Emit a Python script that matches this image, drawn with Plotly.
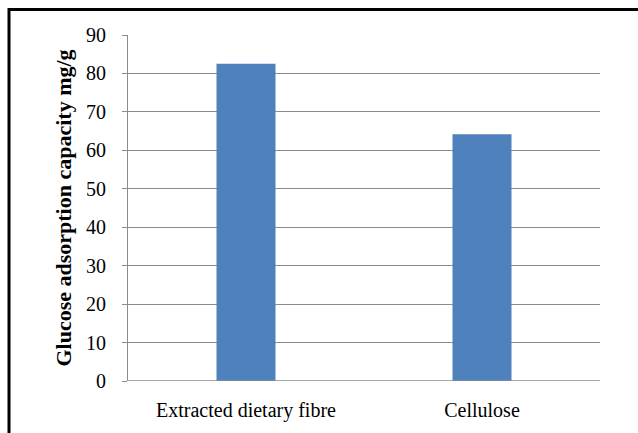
import plotly.graph_objects as go

# Glucose adsorption capacity (mg/g) per sample
categories = ["Extracted dietary fibre", "Cellulose"]
capacity = [82.5, 64.2]
y_ticks = [0, 10, 20, 30, 40, 50, 60, 70, 80, 90]

W, H = 638, 433
L, R, T, B = 128, 38, 35, 52
pw, ph = W - L - R, H - T - B

def px_x(x):
    return (x - L) / pw

def px_y(y):
    return 1 - (y - T) / ph

fig = go.Figure(
    go.Bar(
        x=categories,
        y=capacity,
        marker=dict(color="#4F81BD", line=dict(width=0)),
        width=0.25,
    )
)

serif = "Liberation Serif"
fig.update_layout(
    width=W,
    height=H,
    margin=dict(l=L, r=R, t=T, b=B),
    paper_bgcolor="white",
    plot_bgcolor="white",
    showlegend=False,
    font=dict(family=serif, size=20, color="black"),
    xaxis=dict(
        showgrid=False,
        showline=False,
        ticks="",
        ticklabelstandoff=15,
        tickfont=dict(family=serif, size=20, color="black"),
    ),
    yaxis=dict(
        range=[0, 90],
        tickvals=y_ticks,
        showgrid=True,
        gridcolor="#8C8C8C",
        gridwidth=1,
        showline=True,
        linecolor="#8C8C8C",
        linewidth=1,
        ticks="outside",
        ticklen=5,
        tickcolor="#8C8C8C",
        ticklabelstandoff=12,
        zeroline=False,
        tickfont=dict(family=serif, size=20, color="black"),
        title=dict(
            text="<b>Glucose adsorption capacity mg/g</b>",
            font=dict(family=serif, size=22, color="black"),
            standoff=8,
        ),
    ),
)

# baseline along the category axis
fig.add_shape(type="line", xref="paper", yref="y", x0=0, x1=1, y0=0, y1=0,
              line=dict(color="#8C8C8C", width=1.5))

# outer frame: top and left edges
fig.add_shape(type="line", xref="paper", yref="paper",
              x0=px_x(8), x1=px_x(W + 5), y0=px_y(9.5), y1=px_y(9.5),
              line=dict(color="black", width=3))
fig.add_shape(type="line", xref="paper", yref="paper",
              x0=px_x(9), x1=px_x(9), y0=px_y(8), y1=px_y(H + 5),
              line=dict(color="black", width=3))

fig.write_html("out.html")
